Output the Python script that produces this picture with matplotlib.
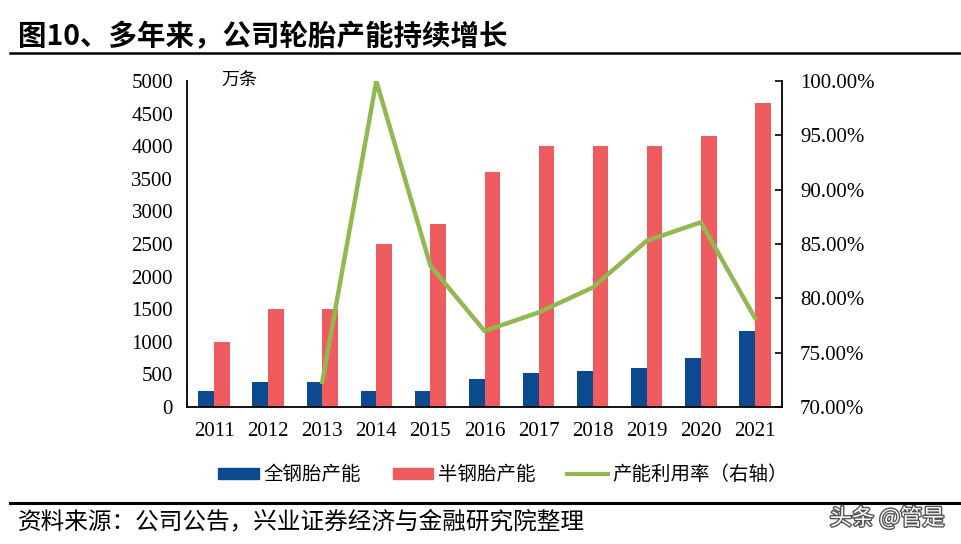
import numpy as np
import matplotlib
matplotlib.use('Agg')
import matplotlib.pyplot as plt
import matplotlib.patheffects as pe
from matplotlib.lines import Line2D
from matplotlib.patches import Patch

plt.rcParams['font.family'] = ['Liberation Serif', 'Noto Sans CJK SC']
cjk = ['Noto Sans CJK SC', 'DejaVu Sans']

years = ['2011', '2012', '2013', '2014', '2015', '2016', '2017', '2018', '2019', '2020', '2021']
all_steel = [250, 380, 380, 250, 250, 430, 520, 560, 600, 750, 1160]
semi_steel = [1000, 1500, 1500, 2500, 2800, 3600, 4000, 4000, 4000, 4150, 4660]
utilization = [np.nan, np.nan, 72.3, 100.0, 83.0, 77.0, 78.7, 81.0, 85.3, 87.0, 78.2]

blue = '#0B4A8F'
red = '#EF5B5E'
green = '#92B851'

fig = plt.figure(figsize=(9.62, 5.44), dpi=100)
ax = fig.add_axes([0.1944, 0.2518, 0.6185, 0.5992])
x = np.arange(len(years))
w = 0.29
ax.bar(x - w / 2, all_steel, w, color=blue, zorder=2)
ax.bar(x + w / 2, semi_steel, w, color=red, zorder=2)
ax.set_xlim(-0.5, len(years) - 0.5)
ax.set_ylim(0, 5000)
ax.set_yticks(np.arange(0, 5001, 500))
ax.set_xticks(x)
ax.set_xticklabels(years)
ax.tick_params(axis='y', length=0, pad=10, labelsize=15)
ax.tick_params(axis='x', length=0, pad=11, labelsize=15)
for s in ['top', 'right']:
    ax.spines[s].set_visible(False)
ax.spines['left'].set_linewidth(1.3)
ax.spines['bottom'].set_linewidth(1.3)
ax.text(0.058, 1.0, '万条', transform=ax.transAxes, ha='left', va='center',
        fontsize=13, family=cjk)

ax2 = ax.twinx()
ax2.plot(x, utilization, color=green, lw=3.2, zorder=3)
ax2.set_ylim(70, 100)
ax2.set_yticks(np.arange(70, 100.1, 5))
ax2.set_yticklabels(['%.2f%%' % v for v in np.arange(70, 100.1, 5)])
ax2.tick_params(axis='y', direction='in', length=5, width=1.2, pad=13, labelsize=15)
for s in ['top', 'left', 'bottom']:
    ax2.spines[s].set_visible(False)
ax2.spines['right'].set_linewidth(1.3)

handles = [Patch(color=blue), Patch(color=red), Line2D([0], [0], color=green, lw=3)]
labels = ['全钢胎产能', '半钢胎产能', '产能利用率（右轴）']
fig.legend(handles, labels, loc='center', bbox_to_anchor=(0.523, 0.127), ncol=3,
           frameon=False, prop={'family': cjk, 'size': 14}, handlelength=2.1,
           handleheight=0.45, columnspacing=1.6, handletextpad=0.25)

fig.text(0.019, 1 - 37 / 544, '图10、多年来，公司轮胎产能持续增长', ha='left', va='center',
         fontsize=20.5, fontweight='bold', family=cjk)
fig.add_artist(Line2D([0.01, 0.998], [1 - 53 / 544] * 2, color='black', lw=1.8))
fig.add_artist(Line2D([0.01, 0.998], [1 - 503 / 544] * 2, color='black', lw=2.2))
fig.text(0.019, 1 - 522 / 544, '资料来源：公司公告，兴业证券经济与金融研究院整理', ha='left',
         va='center', fontsize=17, family=cjk)
fig.text(0.982, 1 - 518 / 544, '头条 @管是', ha='right', va='center', fontsize=16,
         family=cjk, color='white',
         path_effects=[pe.withStroke(linewidth=2, foreground='#555555')])

fig.savefig('out.png', dpi=100)
